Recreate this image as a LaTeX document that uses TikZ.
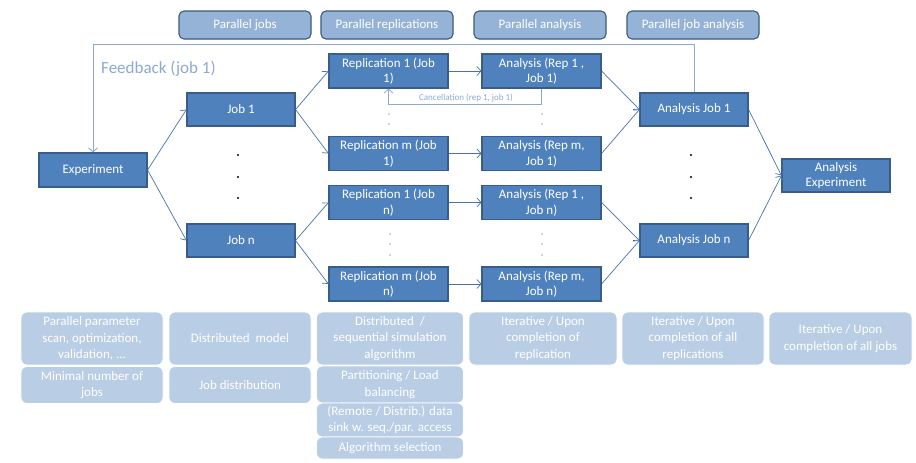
\documentclass[tikz,border=0pt]{standalone}
\usepackage{fontspec}
\setmainfont{Carlito}
\usetikzlibrary{arrows.meta}
\definecolor{boxblue}{HTML}{4F81BD}
\definecolor{boxborder}{HTML}{385D8A}
\definecolor{headfill}{HTML}{95B3D7}
\definecolor{headborder}{HTML}{3A5A80}
\definecolor{lightfill}{HTML}{B9CDE5}
\definecolor{fbcolor}{HTML}{8EA9CF}
\definecolor{arrowcol}{HTML}{4A72A8}
\definecolor{dotgray}{HTML}{A6A6A6}
\begin{document}
\begin{tikzpicture}[x=1pt,y=-1pt,
  proc/.style={draw=boxborder, line width=1.1pt, fill=boxblue, text=white,
    font=\fontsize{13}{15.5}\selectfont, align=center, inner sep=0pt,
    minimum height=34pt, minimum width=108pt},
  wide/.style={minimum width=119pt},
  head/.style={draw=headborder, line width=1.1pt, fill=headfill, text=white,
    rounded corners=5pt, font=\fontsize{13}{15.5}\selectfont, inner sep=0pt,
    minimum width=132pt, minimum height=28pt},
  info/.style={draw=white, line width=0.8pt, fill=lightfill, text=white,
    rounded corners=6pt, font=\fontsize{13}{16.5}\selectfont, align=center,
    inner sep=0pt},
  flow/.style={draw=arrowcol, line width=0.7pt,
    -{Straight Barb[length=4pt,width=9pt]}},
  fb/.style={draw=fbcolor, line width=0.9pt,
    -{Straight Barb[length=4pt,width=9pt]}},
  bigdot/.style={fill=black, draw=none},
  smalldot/.style={fill=dotgray, draw=none}
]
\useasboundingbox (0,0) rectangle (916,463);

% header boxes
\node[head] (h1) at (245,25) {Parallel jobs};
\node[head] (h2) at (387,25) {Parallel replications};
\node[head] (h3) at (540,25) {Parallel analysis};
\node[head] (h4) at (693,25) {Parallel job analysis};

% process nodes
\node[proc] (exp) at (93,170) {Experiment};
\node[proc, minimum height=33pt] (j1) at (241,109.5) {Job 1};
\node[proc, minimum height=33pt] (jn) at (241,240.5) {Job n};
\node[proc, wide] (r11) at (388.5,71) {Replication 1 (Job\\1)};
\node[proc, wide] (rm1) at (388.5,153.5) {Replication m (Job\\1)};
\node[proc, wide] (r1n) at (388.5,202.5) {Replication 1 (Job\\n)};
\node[proc, wide] (rmn) at (388.5,284) {Replication m (Job\\n)};
\node[proc, wide] (a11) at (541.5,71) {Analysis (Rep 1 ,\\Job 1)};
\node[proc, wide] (am1) at (541.5,153.5) {Analysis (Rep m,\\Job 1)};
\node[proc, wide] (a1n) at (541.5,202.5) {Analysis (Rep 1 ,\\Job n)};
\node[proc, wide] (amn) at (541.5,284) {Analysis (Rep m,\\Job n)};
\node[proc, minimum height=33pt] (aj1) at (694,109.5) {Analysis Job 1};
\node[proc, minimum height=33pt] (ajn) at (694,240.5) {Analysis Job n};
\node[proc, minimum height=33pt] (aexp) at (836,175.5) {Analysis\\Experiment};

% feedback loop
\coordinate (fbtop) at (93,44);
\draw[fb] (aj1.north) |- (fbtop) -- (exp.north);
\node[text=fbcolor, font=\fontsize{17}{20}\selectfont, anchor=west, inner sep=0pt] (fbl) at (101,69) {Feedback (job 1)};

% cancellation loop
\coordinate (cnl) at (388.5,104);
\coordinate (cnr) at (541.5,104);
\draw[fb, line width=0.8pt] (a11.south) -- (cnr) -- (cnl) -- (r11.south);
\node[text=fbcolor, font=\fontsize{9}{11}\selectfont, inner sep=0pt] (cnlab) at (466,97.5) {Cancellation (rep 1, job 1)};

% flow arrows
\draw[flow] (exp.east) -- (j1.west);
\draw[flow] (exp.east) -- (jn.west);
\draw[flow] (j1.east) -- (r11.west);
\draw[flow] (j1.east) -- (rm1.west);
\draw[flow] (jn.east) -- (r1n.west);
\draw[flow] (jn.east) -- (rmn.west);
\draw[flow] (r11.east) -- (a11.west);
\draw[flow] (rm1.east) -- (am1.west);
\draw[flow] (r1n.east) -- (a1n.west);
\draw[flow] (rmn.east) -- (amn.west);
\draw[flow] (a11.east) -- (aj1.west);
\draw[flow] (am1.east) -- (aj1.west);
\draw[flow] (a1n.east) -- (ajn.west);
\draw[flow] (amn.east) -- (ajn.west);
\draw[flow] (aj1.east) -- (aexp.west);
\draw[flow] (ajn.east) -- (aexp.west);

% ellipsis dots
\foreach \yy in {155,177,198} {
  \fill[bigdot] (238,\yy) circle (1.1pt);
  \fill[bigdot] (691,\yy) circle (1.1pt);
}
\foreach \yy in {114,124} {
  \fill[smalldot] (389,\yy) circle (0.8pt);
  \fill[smalldot] (542,\yy) circle (0.8pt);
}
\foreach \yy in {234,244,255} {
  \fill[smalldot] (390,\yy) circle (0.8pt);
  \fill[smalldot] (542,\yy) circle (0.8pt);
}

% bottom info boxes
\node[info, minimum width=142pt, minimum height=53pt] (b11) at (92,338.5) {Parallel parameter\\scan, optimization,\\validation, ...};
\node[info, minimum width=142pt, minimum height=37pt] (b12) at (92,385) {Minimal number of\\jobs};
\node[info, minimum width=142pt, minimum height=53pt] (b21) at (240,338.5) {Distributed\ \ model};
\node[info, minimum width=142pt, minimum height=37pt] (b22) at (240,385) {Job distribution};
\node[info, minimum width=147pt, minimum height=53pt] (b31) at (390,338.5) {Distributed\ \ /\\sequential simulation\\algorithm};
\node[info, minimum width=147pt, minimum height=37pt] (b32) at (390,384.5) {Partitioning / Load\\balancing};
\node[info, minimum width=147pt, minimum height=34pt] (b33) at (390,420) {(Remote / Distrib.) data\\sink w. seq./par. access};
\node[info, minimum width=147pt, minimum height=22pt] (b34) at (390,448) {Algorithm selection};
\node[info, minimum width=148pt, minimum height=53pt] (b4) at (543,338.5) {Iterative / Upon\\completion of\\replication};
\node[info, minimum width=142pt, minimum height=53pt] (b5) at (693,338.5) {Iterative / Upon\\completion of all\\replications};
\node[info, minimum width=143pt, minimum height=53pt] (b6) at (840.5,338.5) {Iterative / Upon\\completion of all jobs};
\end{tikzpicture}
\end{document}
